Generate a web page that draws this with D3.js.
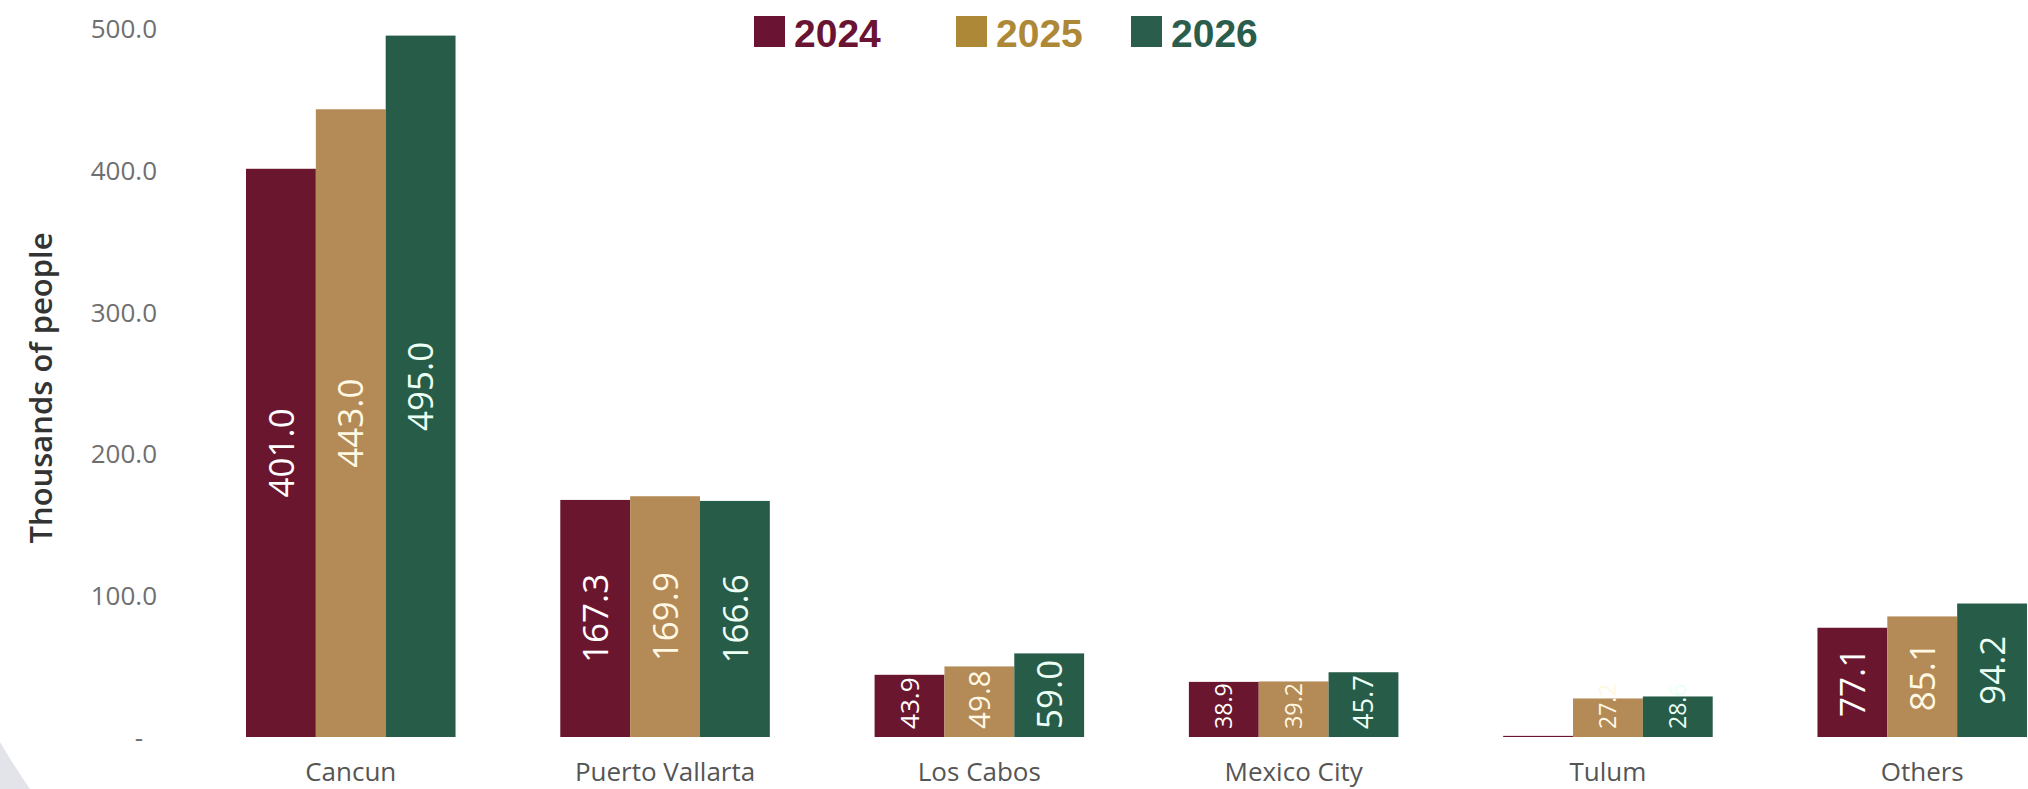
<!DOCTYPE html>
<html>
<head>
<meta charset="utf-8">
<script src="https://cdn.jsdelivr.net/npm/d3@7"></script>
<style>
  html, body { margin: 0; padding: 0; background: #ffffff; }
  svg { display: block; }
</style>
</head>
<body>
<script>
// ---- data ----
const categories = ["Cancun", "Puerto Vallarta", "Los Cabos", "Mexico City", "Tulum", "Others"];
const years = ["2024", "2025", "2026"];
const values2024 = [401.0, 167.3, 43.9, 38.9, 0.8, 77.1];
const values2025 = [443.0, 169.9, 49.8, 39.2, 27.2, 85.1];
const values2026 = [495.0, 166.6, 59.0, 45.7, 28.6, 94.2];
const yTicks = [0, 100, 200, 300, 400, 500];
const yTitle = "Thousands of people";

// ---- styles ----
const barColors = {"2024": "#6b162f", "2025": "#b48a57", "2026": "#275c49"};
const legendColors = {"2024": "#6a1333", "2025": "#ad8836", "2026": "#2a5d4b"};
const labelColors = {"2024": "#ffffff", "2025": "#fff8e2", "2026": "#ecfff5"};

const W = 2028, H = 789;
const svg = d3.select("body").append("svg").attr("width", W).attr("height", H);

// faint corner artifact
svg.append("path")
  .attr("d", "M0,742 Q14,766 30,789 L0,789 Z")
  .attr("fill", "#e3e3ea");

const series = years.map((yr, i) => ({year: yr, values: [values2024, values2025, values2026][i]}));
const rows = categories.map((c, ci) => ({cat: c, vals: series.map(s => ({year: s.year, value: s.values[ci]}))}));

const x0 = d3.scaleBand().domain(categories).range([246, 2027]).paddingInner(1/3).paddingOuter(0);
const x1 = d3.scaleBand().domain(years).range([0, x0.bandwidth()]).padding(0);
const y = d3.scaleLinear().domain([0, 500]).range([737, 28.5]);

// y axis
const yAxis = d3.axisLeft(y).tickValues(yTicks).tickSize(0).tickPadding(0)
  .tickFormat(d => d === 0 ? "-" : d3.format(".1f")(d));
const gy = svg.append("g").attr("transform", "translate(157,0)").call(yAxis);
gy.select(".domain").remove();
gy.selectAll("text")
  .attr("font-family", "'Open Sans', sans-serif")
  .attr("font-size", 26)
  .attr("fill", "#6f6f6f")
  .attr("dy", "0.36em")
  .attr("dx", d => d === 0 ? -14 : 0);

// y title
svg.append("text")
  .attr("transform", "translate(52,388) rotate(-90)")
  .attr("text-anchor", "middle")
  .attr("font-family", "'Open Sans', sans-serif")
  .attr("font-weight", 600)
  .attr("font-size", 31)
  .attr("fill", "#333333")
  .text(yTitle);

// bars
const groups = svg.append("g").selectAll("g").data(rows).join("g")
  .attr("transform", d => `translate(${x0(d.cat)},0)`);

groups.selectAll("rect").data(d => d.vals).join("rect")
  .attr("x", d => x1(d.year))
  .attr("width", x1.bandwidth())
  .attr("y", d => y(d.value))
  .attr("height", d => y(0) - y(d.value))
  .attr("fill", d => barColors[d.year]);

// value labels
const base = y(0);
groups.selectAll("text.val").data(d => d.vals.filter(v => v.value >= 5)).join("text")
  .attr("class", "val")
  .attr("font-family", "'Open Sans', sans-serif")
  .attr("font-size", d => Math.max(23, Math.min(35, 0.42 * (base - y(d.value)))))
  .attr("fill", d => labelColors[d.year])
  .attr("text-anchor", "middle")
  .attr("dy", "0.36em")
  .text(d => d3.format(".1f")(d.value))
  .each(function(d) {
    const len = this.getComputedTextLength();
    const cx = x1(d.year) + x1.bandwidth() / 2;
    const mid = (y(d.value) + base) / 2;
    const cy = Math.min(mid, base - 8 - len / 2);
    d3.select(this).attr("transform", `translate(${cx},${cy}) rotate(-90)`);
  });

// category labels
svg.append("g").selectAll("text").data(categories).join("text")
  .attr("x", d => x0(d) + x0.bandwidth() / 2)
  .attr("y", 781)
  .attr("text-anchor", "middle")
  .attr("font-family", "'Open Sans', sans-serif")
  .attr("font-size", 26)
  .attr("fill", "#555555")
  .text(d => d);

// legend
const legendX = {"2024": 754, "2025": 956, "2026": 1131};
const lg = svg.append("g").selectAll("g").data(years).join("g")
  .attr("transform", d => `translate(${legendX[d]},0)`);
lg.append("rect")
  .attr("x", 0).attr("y", 16).attr("width", 31).attr("height", 31)
  .attr("fill", d => legendColors[d]);
lg.append("text")
  .attr("x", 40).attr("y", 47)
  .attr("font-family", "'Liberation Sans', Arial, sans-serif")
  .attr("font-weight", 700)
  .attr("font-size", 39)
  .attr("fill", d => legendColors[d])
  .text(d => d);
</script>
</body>
</html>
